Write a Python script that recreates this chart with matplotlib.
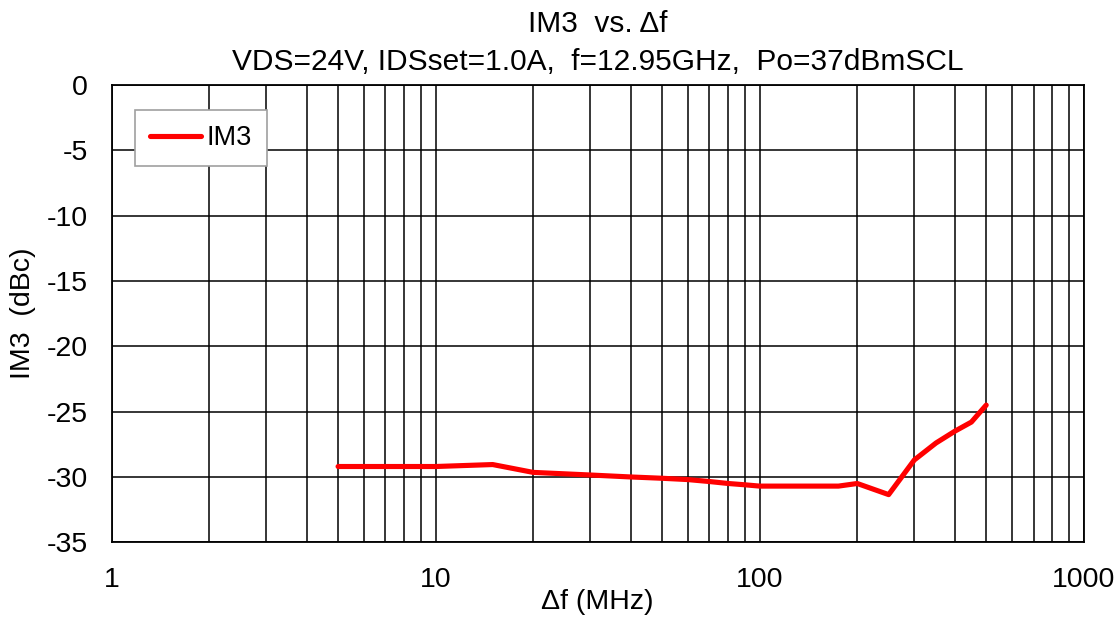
import numpy as np
import matplotlib
matplotlib.use('Agg')
import matplotlib.pyplot as plt
from matplotlib.ticker import FixedLocator, NullFormatter

# data
delta_f = [5, 10, 15, 20, 30, 40, 50, 60, 70, 80, 90, 100, 150, 175,
           200, 250, 300, 350, 400, 450, 500]
im3 = [-29.2, -29.2, -29.05, -29.65, -29.85, -30.0, -30.1, -30.2, -30.35,
       -30.5, -30.6, -30.7, -30.7, -30.7, -30.5, -31.35, -28.7, -27.4,
       -26.5, -25.8, -24.5]

y_ticks = [0, -5, -10, -15, -20, -25, -30, -35]
x_ticks = [1, 10, 100, 1000]

plt.rcParams['font.family'] = ['Liberation Sans', 'DejaVu Sans']
fs = 20.5

fig = plt.figure(figsize=(11.19, 6.18), dpi=100)
ax = fig.add_axes([0.0997, 0.1225, 0.8688, 0.7400])

ax.plot(delta_f, im3, color='#ff0000', linewidth=3.7, label='IM3',
        solid_capstyle='round', solid_joinstyle='round', zorder=3)

ax.set_xscale('log')
ax.set_xlim(1, 1000)
ax.set_ylim(-35, 0)
ax.set_xticks(x_ticks)
ax.set_xticklabels([str(t) for t in x_ticks])
minor = [m * d for d in (1, 10, 100) for m in range(2, 10)]
ax.xaxis.set_minor_locator(FixedLocator(minor))
ax.xaxis.set_minor_formatter(NullFormatter())
ax.set_yticks(y_ticks)
ax.set_yticklabels([str(t) for t in y_ticks])

ax.grid(True, which='major', color='black', linewidth=1.1)
ax.grid(True, which='minor', axis='x', color='black', linewidth=1.1)
ax.tick_params(which='both', length=0, labelsize=fs)
ax.tick_params(axis='y', pad=17)
ax.tick_params(axis='x', pad=18)
for s in ax.spines.values():
    s.set_color('black')
    s.set_linewidth(1.3)

ax.set_xlabel('\u0394f (MHz)', fontsize=fs, labelpad=-3)
ax.set_ylabel('IM3  (dBc)', fontsize=fs, labelpad=8)
ax.set_title('IM3  vs. \u0394f\nVDS=24V, IDSset=1.0A,  f=12.95GHz,  Po=37dBmSCL',
             fontsize=21.5, pad=11, linespacing=1.45)

leg = ax.legend(loc='upper left', bbox_to_anchor=(0.024, 0.945), fontsize=19.5,
                frameon=True, fancybox=False, handlelength=1.9,
                borderpad=0.55, handletextpad=0.2, borderaxespad=0)
leg.get_frame().set_edgecolor('#a0a0a0')
leg.get_frame().set_linewidth(1.2)
leg.get_frame().set_alpha(1)

fig.savefig('out.png', dpi=100)
